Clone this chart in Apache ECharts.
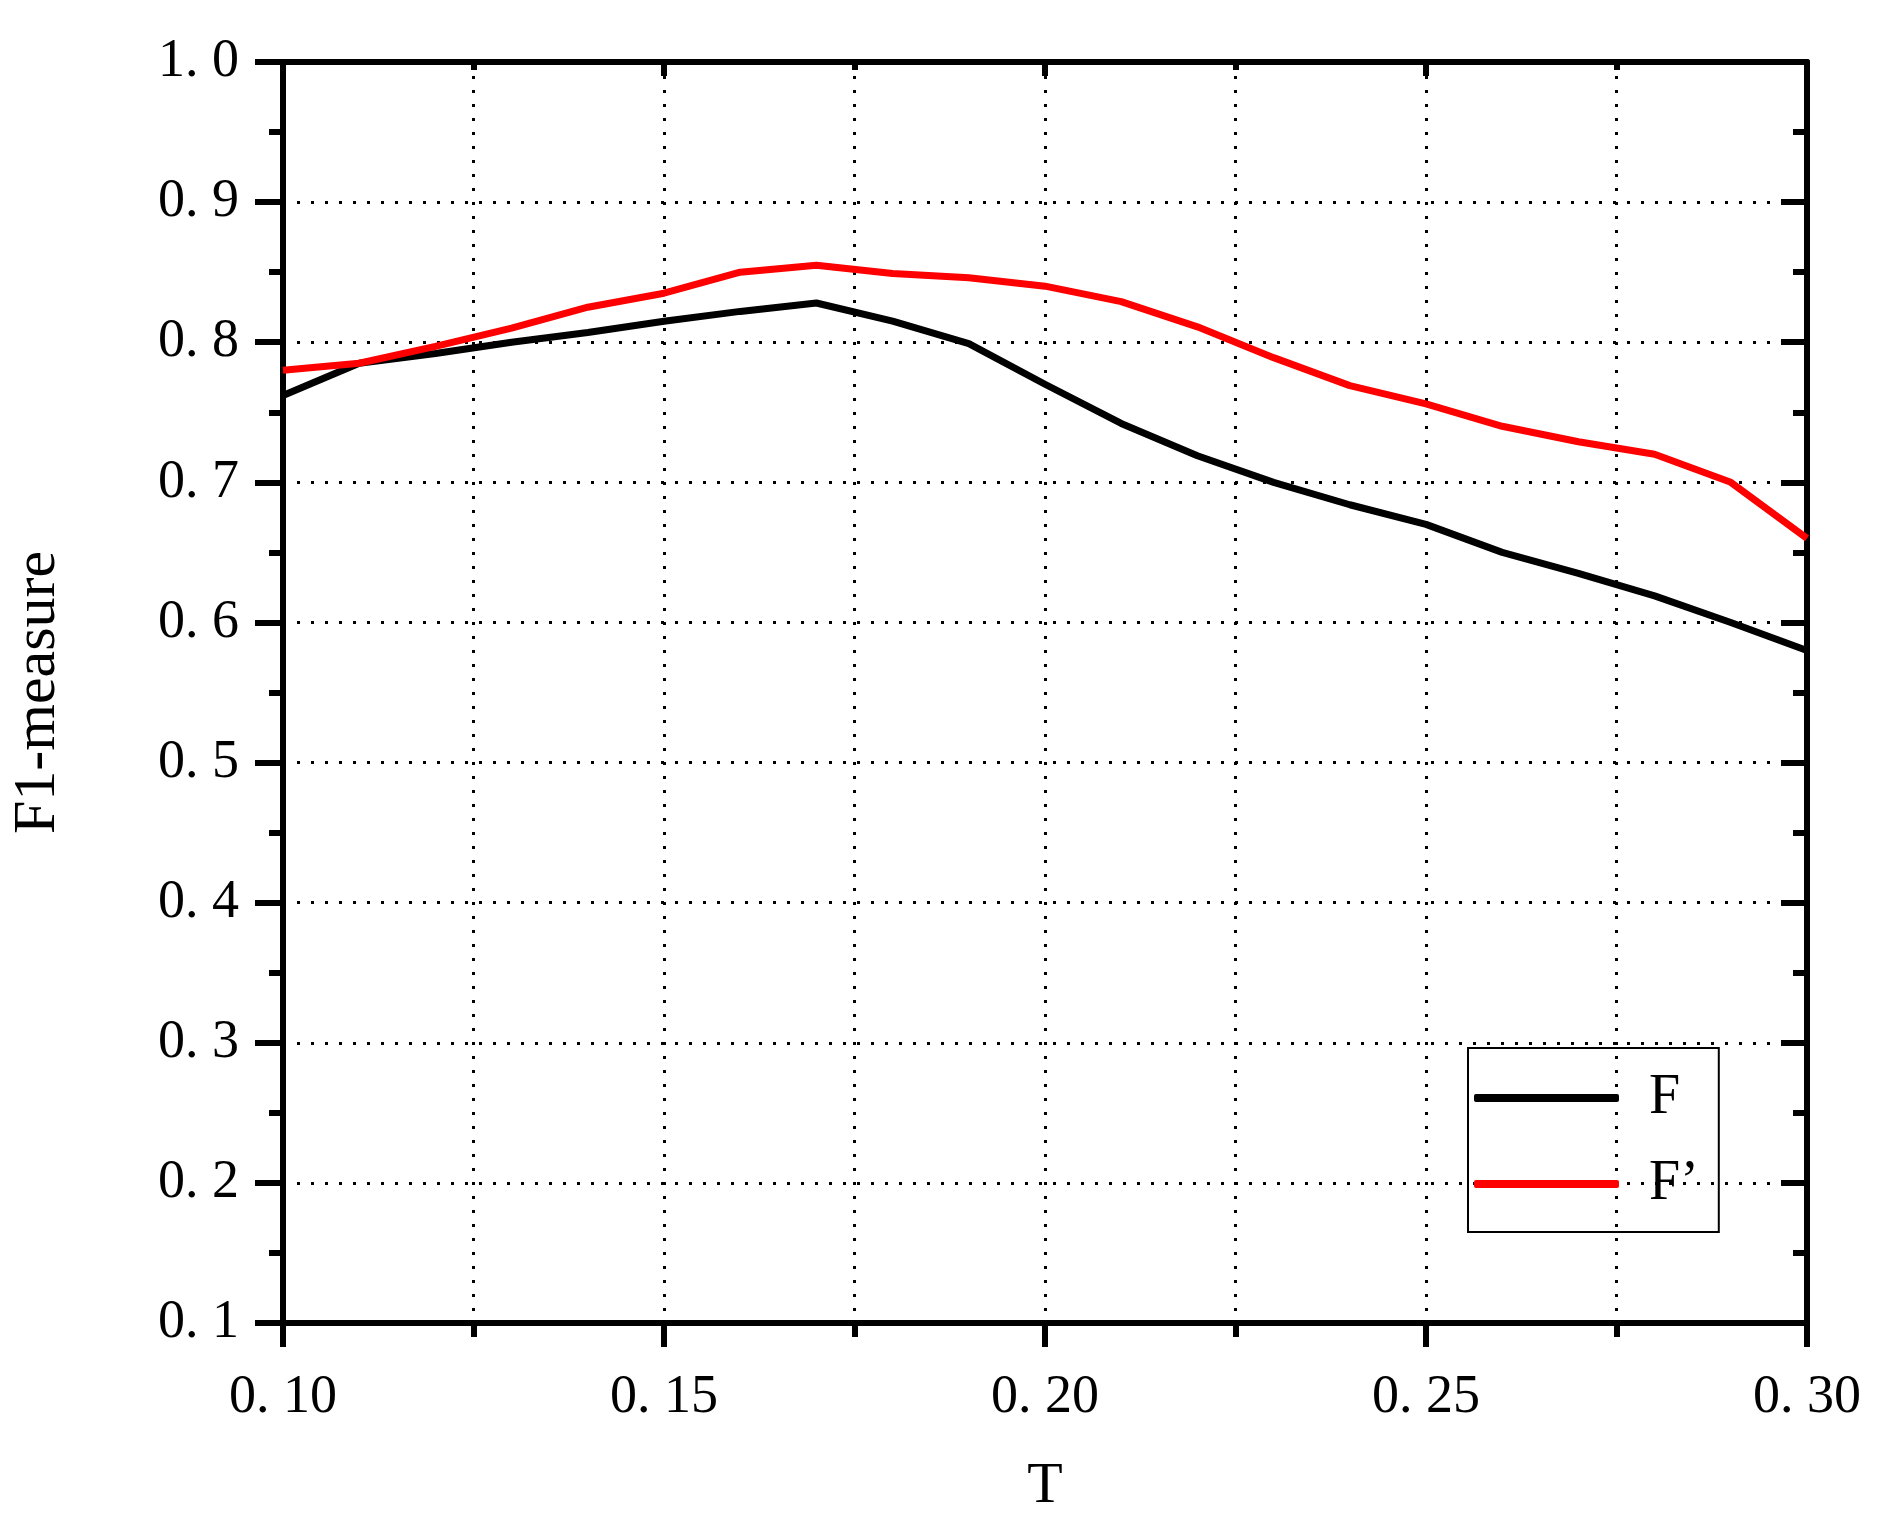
<!DOCTYPE html>
<html>
<head>
<meta charset="utf-8">
<script src="https://cdn.jsdelivr.net/npm/echarts@6/dist/echarts.min.js"></script>
<style>html,body{margin:0;background:#fff}#main{width:1888px;height:1540px}</style>
</head>
<body>
<div id="main"></div>
<script>
var myChart = echarts.init(document.getElementById('main'));

var tValues = [0.10, 0.11, 0.12, 0.13, 0.14, 0.15, 0.16, 0.17, 0.18, 0.19, 0.20,
               0.21, 0.22, 0.23, 0.24, 0.25, 0.26, 0.27, 0.28, 0.29, 0.30];
var fValues = [0.762, 0.785, 0.792, 0.800, 0.807, 0.815, 0.822, 0.828, 0.815, 0.799, 0.770,
               0.742, 0.719, 0.700, 0.684, 0.670, 0.650, 0.635, 0.619, 0.600, 0.580];
var fPrimeValues = [0.780, 0.785, 0.797, 0.810, 0.825, 0.835, 0.850, 0.855, 0.849, 0.846, 0.840,
                    0.829, 0.811, 0.789, 0.769, 0.756, 0.740, 0.729, 0.720, 0.700, 0.660];
var xTickLabels = ['0. 10', '0. 15', '0. 20', '0. 25', '0. 30'];
var yTickLabels = ['0. 1', '0. 2', '0. 3', '0. 4', '0. 5', '0. 6', '0. 7', '0. 8', '0. 9', '1. 0'];

var font = '"Liberation Serif", "DejaVu Serif", serif';

function pairs(vals)
{
    var out = [];
    for (var i = 0; i < tValues.length; i++) {
        out.push([tValues[i], vals[i]]);
    }
    return out;
}

var lineStyleAxis = { color: '#000', width: 6 };
var dotted = { color: '#000', width: 3, type: [3, 11] };

var option = {
    animation: false,
    backgroundColor: '#fff',
    textStyle: { fontFamily: font },
    grid: { left: 279, right: 81, top: 62, bottom: 217 },
    legend: {
        left: 1468, top: 1048,
        orient: 'vertical',
        borderColor: '#000', borderWidth: 2, borderRadius: 0,
        padding: [22, 20, 20, 6],
        itemWidth: 145, itemHeight: 8, itemGap: 30,
        icon: 'roundRect',
        textStyle: { fontFamily: font, fontSize: 56, color: '#000', padding: [0, 0, 0, 25] },
        data: ['F', 'F\u2019']
    },
    xAxis: [{
        type: 'value', min: 0.1, max: 0.3, interval: 0.05,
        name: 'T', nameLocation: 'middle', nameGap: 135,
        nameTextStyle: { fontSize: 58, color: '#000', fontFamily: font },
        axisLine: { lineStyle: lineStyleAxis },
        axisTick: { length: 24, lineStyle: { width: 6 } },
        minorTick: { show: true, splitNumber: 2, length: 14, lineStyle: { color: '#000', width: 6 } },
        splitLine: { show: true, lineStyle: dotted },
        minorSplitLine: { show: true, lineStyle: dotted },
        axisLabel: {
            fontSize: 54, color: '#000', margin: 48, fontFamily: font,
            formatter: function (v) { return xTickLabels[Math.round((v - 0.1) / 0.05)]; }
        }
    }, {
        type: 'value', min: 0.1, max: 0.3, interval: 0.05, position: 'top',
        axisLine: { show: true, lineStyle: lineStyleAxis },
        axisTick: { show: true, inside: true, length: 14, lineStyle: { width: 6 } },
        minorTick: { show: true, splitNumber: 2, inside: true, length: 8, lineStyle: { color: '#000', width: 6 } },
        splitLine: { show: false }, axisLabel: { show: false }
    }],
    yAxis: [{
        type: 'value', min: 0.1, max: 1.0, interval: 0.1,
        name: 'F1-measure', nameLocation: 'middle', nameGap: 215, nameRotate: 90,
        nameTextStyle: { fontSize: 60, color: '#000', fontFamily: font },
        axisLine: { show: true, lineStyle: lineStyleAxis },
        axisTick: { show: true, length: 28, lineStyle: { width: 6 } },
        minorTick: { show: true, splitNumber: 2, length: 14, lineStyle: { color: '#000', width: 6 } },
        splitLine: { show: true, lineStyle: dotted },
        axisLabel: {
            fontSize: 54, color: '#000', margin: 44, fontFamily: font,
            formatter: function (v) { return yTickLabels[Math.round((v - 0.1) / 0.1)]; }
        }
    }, {
        type: 'value', min: 0.1, max: 1.0, interval: 0.1, position: 'right',
        axisLine: { show: true, lineStyle: lineStyleAxis },
        axisTick: { show: true, inside: true, length: 26, lineStyle: { width: 6 } },
        minorTick: { show: true, splitNumber: 2, inside: true, length: 14, lineStyle: { color: '#000', width: 6 } },
        splitLine: { show: false }, axisLabel: { show: false }
    }],
    series: [{
        name: 'F', type: 'line', showSymbol: false, symbol: 'none',
        data: pairs(fValues),
        itemStyle: { color: '#000' },
        lineStyle: { color: '#000', width: 7 }
    }, {
        name: 'F\u2019', type: 'line', showSymbol: false, symbol: 'none',
        data: pairs(fPrimeValues),
        itemStyle: { color: '#ff0000' },
        lineStyle: { color: '#ff0000', width: 7 }
    }]
};

myChart.setOption(option);
</script>
</body>
</html>
